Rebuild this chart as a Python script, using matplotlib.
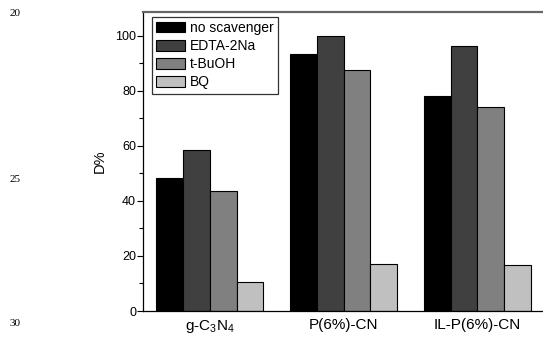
import matplotlib.pyplot as plt
import numpy as np

plt.rcParams['font.family'] = ['Liberation Sans', 'DejaVu Sans']
plt.rcParams['mathtext.default'] = 'regular'

categories = ['g-C$_3$N$_4$', 'P(6%)-CN', 'IL-P(6%)-CN']
series = ['no scavenger', 'EDTA-2Na', 't-BuOH', 'BQ']
no_scavenger = [48.2, 93.3, 78.2]
edta = [58.6, 99.8, 96.2]
tbuoh = [43.8, 87.5, 74.0]
bq = [10.6, 17.1, 16.7]
values = [no_scavenger, edta, tbuoh, bq]
colors = ['#000000', '#404040', '#808080', '#c0c0c0']

fig = plt.figure(figsize=(5.43, 3.37), dpi=100)
ax = fig.add_axes([143 / 543, 26 / 337, 400 / 543, 299 / 337])

x = np.arange(1, len(categories) + 1)
w = 0.2
for i, (name, vals) in enumerate(zip(series, values)):
    ax.bar(x + (i - 1.5) * w, vals, w, color=colors[i], edgecolor='black',
           linewidth=0.8, label=name)

ax.set_xlim(0.5, 3.49)
ax.set_ylim(0, 108.7)
ax.set_xticks(x)
ax.set_xticklabels(categories, fontsize=11)
ax.set_yticks([0, 20, 40, 60, 80, 100])
ax.set_yticks([10, 30, 50, 70, 90], minor=True)
ax.tick_params(axis='y', which='major', direction='out', length=4, width=0.8,
               labelsize=9, pad=1)
ax.tick_params(axis='y', which='minor', direction='out', length=3, width=0.8)
ax.tick_params(axis='x', length=0, pad=5)
ax.set_ylabel('D%', fontsize=10.5, labelpad=6)

ax.spines['right'].set_visible(False)
ax.spines['top'].set_color('#666666')
ax.spines['top'].set_linewidth(1.6)
ax.spines['left'].set_linewidth(0.9)
ax.spines['bottom'].set_linewidth(0.9)

leg = ax.legend(loc='upper left', bbox_to_anchor=(0.022, 0.984), fontsize=10,
                frameon=True, fancybox=False, edgecolor='black',
                handlelength=2.1, handleheight=0.8, labelspacing=0.3,
                handletextpad=0.35, borderpad=0.3, borderaxespad=0)
leg.get_frame().set_linewidth(0.9)

# line numbers from the page margin
for txt, yy in [('20', 14), ('25', 180), ('30', 323)]:
    fig.text(15 / 543, 1 - yy / 337, txt, fontsize=8, family='Liberation Serif',
             ha='center', va='center')

fig.savefig('out.png', dpi=100)
